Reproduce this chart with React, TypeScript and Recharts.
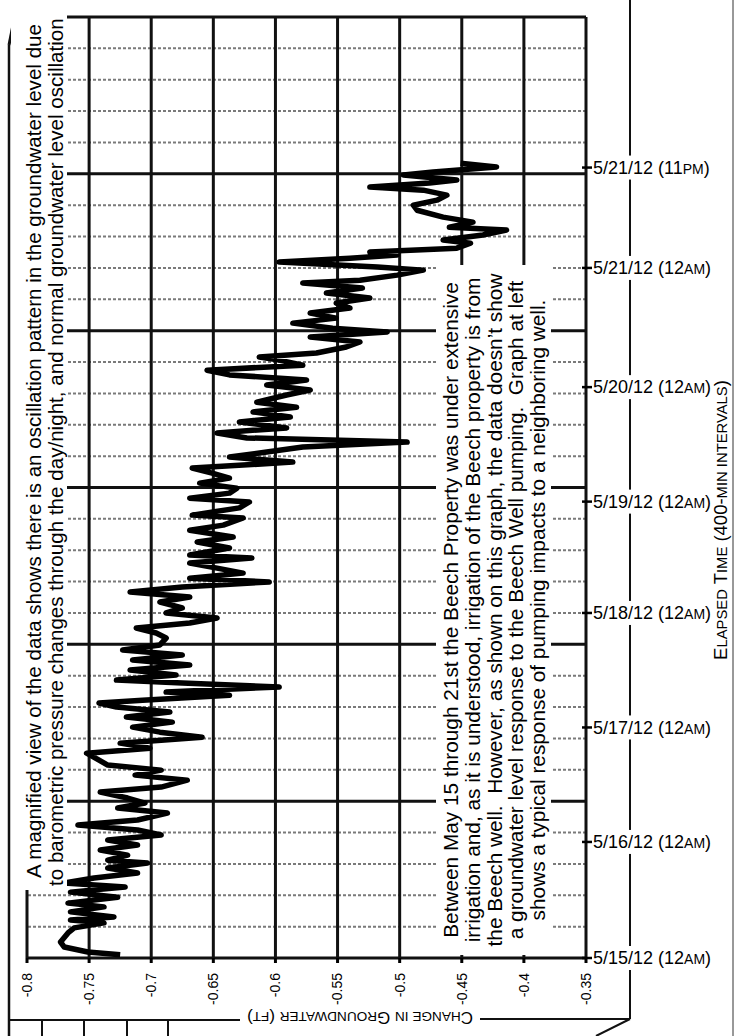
import React from 'react';
import { LineChart, Line, XAxis, YAxis, ReferenceLine } from 'recharts';

const FONT = '"Liberation Sans", Arial, Helvetica, sans-serif';

// Change in groundwater (ft) axis ticks
const changeTicks = [-0.8, -0.75, -0.7, -0.65, -0.6, -0.55, -0.5, -0.45, -0.4, -0.35];
// Elapsed time grid, in 400-minute intervals
const majorRows = [0, 5, 10, 15, 20, 25, 30];
const minorRows = [1, 2, 3, 4, 6, 7, 8, 9, 11, 12, 13, 14, 16, 17, 18, 19, 21, 22, 23, 24, 26, 27, 28, 29];
// Date labels on the time axis (positions in 400-minute intervals)
const timeTickPositions = [0, 3.7, 7.35, 11.0, 14.55, 18.2, 22.0, 25.2];
const timeTickDates = ['5/15/12', '5/16/12', '5/17/12', '5/18/12', '5/19/12', '5/20/12', '5/21/12', '5/21/12'];
const timeTickHours = ['12', '12', '12', '12', '12', '12', '12', '11'];
const timeTickPeriods = ['AM', 'AM', 'AM', 'AM', 'AM', 'AM', 'AM', 'PM'];

// Series: elapsed time (400-min intervals) and change in groundwater (ft)
const elapsed = [
  0.10, 0.19, 0.35, 0.51, 0.80, 0.96, 1.12, 1.21, 1.31, 1.47,
  1.63, 1.75, 1.94, 2.10, 2.26, 2.39, 2.55, 2.71, 2.87, 3.03,
  3.12, 3.28, 3.44, 3.60, 3.76, 3.92, 4.08, 4.24, 4.40, 4.62,
  4.78, 4.94, 5.10, 5.29, 5.45, 5.67, 5.83, 5.99, 6.15, 6.31,
  6.53, 6.69, 6.85, 7.04, 7.20, 7.36, 7.52, 7.68, 7.84, 8.00,
  8.13, 8.22, 8.38, 8.48, 8.64, 8.77, 8.86, 9.02, 9.18, 9.34,
  9.50, 9.66, 9.82, 9.98, 10.20, 10.36, 10.52, 10.68, 10.84, 11.00,
  11.16, 11.35, 11.51, 11.67, 11.83, 11.99, 12.11, 12.27, 12.43, 12.59,
  12.75, 12.85, 13.07, 13.26, 13.42, 13.64, 13.80, 14.03, 14.12, 14.35,
  14.54, 14.66, 14.82, 14.98, 15.14, 15.30, 15.46, 15.62, 15.81, 15.97,
  16.13, 16.29, 16.45, 16.58, 16.74, 16.90, 17.09, 17.25, 17.41, 17.56,
  17.72, 17.95, 18.11, 18.27, 18.43, 18.59, 18.74, 18.90, 19.06, 19.16,
  19.29, 19.48, 19.64, 19.80, 19.96, 20.08, 20.24, 20.40, 20.56, 20.72,
  20.88, 21.04, 21.20, 21.36, 21.52, 21.61, 21.77, 21.93, 22.03, 22.19,
  22.31, 22.41, 22.51, 22.63, 22.79, 22.89, 23.05, 23.21, 23.30, 23.46,
  23.62, 23.84, 24.00, 24.16, 24.32, 24.48, 24.58, 24.71, 24.80, 24.96,
  25.06, 25.22, 25.34,
];
const change = [
  -0.725, -0.751, -0.770, -0.773, -0.767, -0.762, -0.738, -0.765, -0.730, -0.765,
  -0.738, -0.767, -0.727, -0.765, -0.721, -0.770, -0.746, -0.711, -0.735, -0.703,
  -0.735, -0.719, -0.741, -0.711, -0.735, -0.692, -0.711, -0.759, -0.711, -0.687,
  -0.727, -0.705, -0.719, -0.741, -0.692, -0.671, -0.713, -0.692, -0.735, -0.742,
  -0.752, -0.701, -0.725, -0.659, -0.693, -0.715, -0.683, -0.720, -0.685, -0.728,
  -0.742, -0.707, -0.637, -0.688, -0.597, -0.675, -0.728, -0.680, -0.717, -0.669,
  -0.715, -0.675, -0.723, -0.693, -0.688, -0.696, -0.712, -0.669, -0.647, -0.688,
  -0.675, -0.693, -0.669, -0.717, -0.675, -0.605, -0.669, -0.626, -0.647, -0.669,
  -0.619, -0.669, -0.637, -0.663, -0.634, -0.669, -0.642, -0.626, -0.667, -0.629,
  -0.621, -0.669, -0.637, -0.631, -0.661, -0.637, -0.651, -0.667, -0.586, -0.637,
  -0.607, -0.578, -0.494, -0.623, -0.647, -0.591, -0.629, -0.588, -0.618, -0.583,
  -0.615, -0.591, -0.572, -0.607, -0.575, -0.637, -0.655, -0.578, -0.597, -0.613,
  -0.567, -0.543, -0.532, -0.572, -0.510, -0.554, -0.586, -0.551, -0.572, -0.540,
  -0.551, -0.524, -0.559, -0.530, -0.578, -0.532, -0.502, -0.481, -0.518, -0.597,
  -0.540, -0.502, -0.524, -0.454, -0.443, -0.465, -0.433, -0.414, -0.460, -0.441,
  -0.465, -0.486, -0.489, -0.470, -0.462, -0.481, -0.524, -0.476, -0.454, -0.497,
  -0.473, -0.422, -0.451,
];

const note1 = [
  'A magnified view of the data shows there is an oscillation pattern in the groundwater level due',
  'to barometric pressure changes through the day/night, and normal groundwater level oscillation',
];
const note2 = [
  'Between May 15 through 21st the Beech Property was under extensive',
  'irrigation and, as it is understood, irrigation of the Beech property is from',
  'the Beech well.  However, as shown on this graph, the data doesn\u2019t show',
  'a groundwater level response to the Beech Well pumping.  Graph at left',
  'shows a typical response of pumping impacts to a neighboring well.',
];

const data = elapsed.map((t, i) => ({ elapsed: t, change: change[i] }));

function XTick(props: any) {
  const { x, payload } = props;
  return (
    <text
      transform={`translate(${x},973) rotate(-90)`}
      textAnchor="end"
      dy="0.35em"
      fontSize={14}
      fontFamily={FONT}
      fill="#000"
    >
      {String(payload.value)}
    </text>
  );
}

function YTick(props: any) {
  const { x, y, payload } = props;
  const i = timeTickPositions.indexOf(payload.value);
  if (i < 0) return null;
  return (
    <g>
      <rect x={x + 6} y={y - 12} width={124} height={24} fill="#fff" />
      <line x1={x - 4} x2={x + 6} y1={y} y2={y} stroke="#000" strokeWidth={2.5} />
      <text x={x + 7} y={y} dy="0.35em" fontSize={18} fontFamily={FONT} fill="#000">
        {timeTickDates[i] + ' (' + timeTickHours[i]}
        <tspan fontSize={14}>{timeTickPeriods[i]}</tspan>
        {')'}
      </text>
    </g>
  );
}

function Frame() {
  return (
    <svg width={736} height={1036} style={{ position: 'absolute', left: 0, top: 0 }}>
      <line x1={18} y1={0} x2={9} y2={45} stroke="#111" strokeWidth={3} />
      <line x1={9} y1={45} x2={9} y2={1036} stroke="#111" strokeWidth={2.5} />
      <line x1={9} y1={1020} x2={240} y2={1020} stroke="#111" strokeWidth={2} />
      <line x1={480} y1={1019} x2={630} y2={1019} stroke="#111" strokeWidth={2} />
      <line x1={630} y1={0} x2={630} y2={1019} stroke="#111" strokeWidth={2} />
      <line x1={630} y1={1019} x2={596} y2={1036} stroke="#111" strokeWidth={2} />
      <line x1={733} y1={0} x2={733} y2={1036} stroke="#333" strokeWidth={1} />
      {[42, 84, 127, 168].map((x) => (
        <line key={x} x1={x} y1={1021} x2={x} y2={1036} stroke="#111" strokeWidth={2} />
      ))}
    </svg>
  );
}

function Notes() {
  return (
    <svg
      width={736}
      height={1036}
      style={{ position: 'absolute', left: 0, top: 0, pointerEvents: 'none' }}
    >
      {/* note 1 */}
      <rect x={11} y={0} width={56} height={890} fill="#fff" />
      <text transform="translate(41,878) rotate(-90)" fontSize={20.6} fontFamily={FONT} fill="#000">
        {note1[0]}
      </text>
      <text transform="translate(63,886) rotate(-90)" fontSize={20.6} fontFamily={FONT} fill="#000">
        {note1[1]}
      </text>

      {/* note 2 */}
      <rect x={436} y={265} width={115} height={690} fill="#fff" />
      {note2.map((s, i) => (
        <text
          key={i}
          transform={`translate(${458 + i * 21.8},610) rotate(-90)`}
          textAnchor="middle"
          fontSize={20.8}
          fontFamily={FONT}
          fill="#000"
          style={{ whiteSpace: 'pre' }}
        >
          {s}
        </text>
      ))}

      {/* axis titles */}
      <rect x={242} y={1008} width={238} height={24} fill="#fff" />
      <text
        transform="translate(360,1012) rotate(180)"
        textAnchor="middle"
        fontFamily={FONT}
        fill="#000"
        style={{ whiteSpace: 'pre' }}
      >
        <tspan fontSize={17}>C</tspan>
        <tspan fontSize={13.6}>HANGE IN</tspan>
        <tspan fontSize={17}> G</tspan>
        <tspan fontSize={13.6}>ROUNDWATER</tspan>
        <tspan fontSize={17}> (</tspan>
        <tspan fontSize={13.6}>FT</tspan>
        <tspan fontSize={17}>)</tspan>
      </text>
      <text
        transform="translate(727,520) rotate(-90)"
        textAnchor="middle"
        fontFamily={FONT}
        fill="#000"
        style={{ whiteSpace: 'pre' }}
      >
        <tspan fontSize={18.5}>E</tspan>
        <tspan fontSize={14.8}>LAPSED</tspan>
        <tspan fontSize={18.5}> T</tspan>
        <tspan fontSize={14.8}>IME</tspan>
        <tspan fontSize={18.5}> (400-</tspan>
        <tspan fontSize={14.8}>MIN INTERVALS</tspan>
        <tspan fontSize={18.5}>)</tspan>
      </text>
    </svg>
  );
}

export default function App() {
  return (
    <div
      style={{
        position: 'absolute',
        left: 0,
        top: 0,
        width: 736,
        height: 1036,
        background: '#fff',
        overflow: 'hidden',
      }}
    >
      <Frame />
      <LineChart
        layout="vertical"
        width={736}
        height={1036}
        data={data}
        margin={{ top: 17, right: 0, bottom: 0, left: 27 }}
      >
        <XAxis
          type="number"
          domain={[-0.8, -0.35]}
          ticks={changeTicks}
          allowDataOverflow
          interval={0}
          height={78}
          axisLine={false}
          tickLine={{ stroke: '#000', strokeWidth: 3 }}
          tickSize={5}
          tick={<XTick />}
        />
        <YAxis
          type="number"
          dataKey="elapsed"
          orientation="right"
          reversed
          domain={[0, 30]}
          ticks={timeTickPositions}
          allowDataOverflow
          interval={0}
          width={150}
          axisLine={false}
          tickLine={false}
          tickSize={0}
          tickMargin={0}
          tick={<YTick />}
        />
        {minorRows.map((r) => (
          <ReferenceLine
            key={'m' + r}
            y={r}
            stroke="#7a7a7a"
            strokeWidth={2}
            strokeDasharray="3 2"
          />
        ))}
        {majorRows.map((r) => (
          <ReferenceLine key={'M' + r} y={r} stroke="#111" strokeWidth={3} />
        ))}
        {changeTicks.map((v) => (
          <ReferenceLine key={'v' + v} x={v} stroke="#111" strokeWidth={3} />
        ))}
        <Line
          dataKey="change"
          stroke="#000"
          strokeWidth={5.5}
          strokeLinejoin="round"
          dot={false}
          isAnimationActive={false}
        />
      </LineChart>
      <Notes />
    </div>
  );
}
